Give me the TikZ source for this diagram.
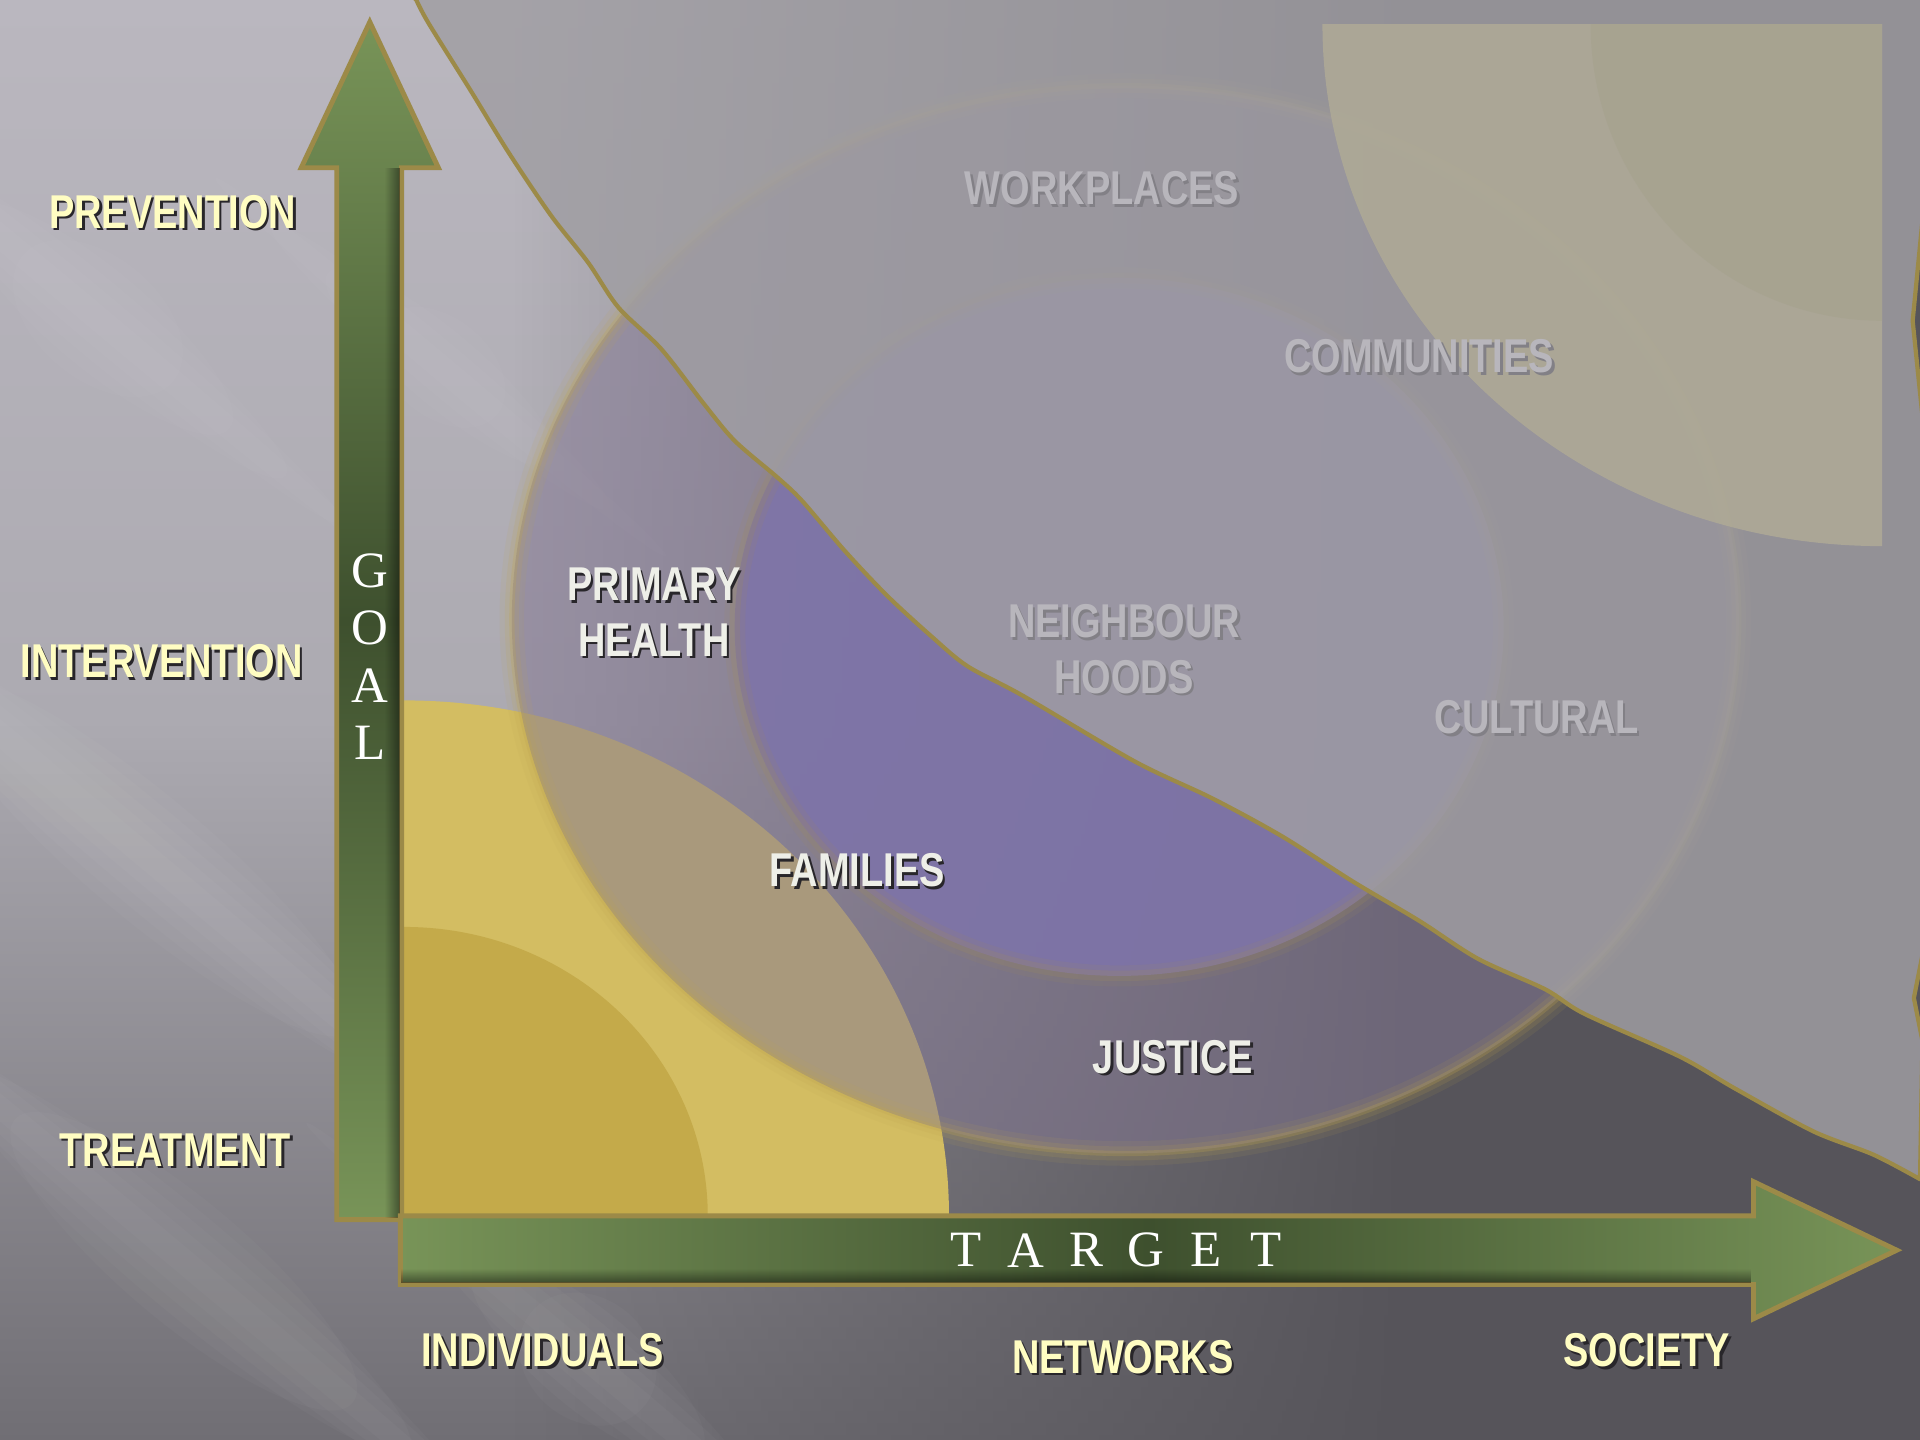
\documentclass[tikz,border=0pt]{standalone}
\usepackage{fontspec}
\usetikzlibrary{fadings}
\newfontfamily\lblfont{Liberation Sans}[FakeStretch=0.8]
\newfontfamily\axfont{Liberation Serif}

\definecolor{bglight}{RGB}{186,183,191}
\definecolor{bgup}{RGB}{172,170,177}
\definecolor{bgmid}{RGB}{112,110,116}
\definecolor{bgdark}{RGB}{86,84,90}
\definecolor{goldline}{RGB}{156,138,72}
\definecolor{fog}{RGB}{160,158,163}
\definecolor{ringfill}{RGB}{132,120,148}
\definecolor{ringglow}{RGB}{190,165,80}
\definecolor{purplein}{RGB}{126,116,168}
\definecolor{innerglow}{RGB}{160,140,90}
\definecolor{yellowout}{RGB}{211,189,98}
\definecolor{yellowin}{RGB}{196,170,74}
\definecolor{beigeout}{RGB}{174,169,150}
\definecolor{beigein}{RGB}{167,163,144}
\definecolor{greenlight}{RGB}{120,148,88}
\definecolor{greendark}{RGB}{62,80,46}
\definecolor{cream}{RGB}{255,253,194}
\definecolor{palewhite}{RGB}{238,239,232}
\definecolor{fogtext}{RGB}{184,182,188}
\definecolor{txtshadow}{RGB}{40,38,42}
\definecolor{fogshadow}{RGB}{130,128,134}

\newcommand{\shtxt}[2][txtshadow]{\leavevmode\rlap{\kern0.25mm\raisebox{-0.25mm}{\textcolor{#1}{#2}}}#2}

\tikzset{
  lbl/.style={font=\lblfont\bfseries\fontsize{13.5}{15.8}\selectfont, text=cream, align=center, inner sep=0pt},
  healthlbl/.style={lbl, text=palewhite},
  foglbl/.style={lbl, text=fogtext},
  axisletter/.style={font=\axfont\fontsize{14.5}{16}\selectfont, text=white, inner sep=0pt},
  axisarrow/.style={draw=goldline, line width=1.4pt, line join=miter},
}

\begin{document}
\begin{tikzpicture}[x=0.12245mm,y=-0.12245mm]
\useasboundingbox (0,0) rectangle (1568,1176);
% background
\shade[top color=bglight, bottom color=bgmid, middle color=bgup] (0,0) rectangle (1568,1176);
\fill[bgdark, path fading=west] (420,0) rectangle (1150,1176);
\fill[bgdark] (1150,0) rectangle (1568,1176);
\begin{scope}
  \clip (0,0) rectangle (1568,1176);
  \foreach \cx/\cy/\len in {120/700/520, 150/1030/480, 480/1110/360, 80/260/380, 360/300/300}
  {
    \begin{scope}[shift={(\cx,\cy)}, rotate=-40]
      \foreach \s in {1,...,5}
        \fill[white, opacity=.025] (0,0) ellipse [x radius=\len-60*\s, y radius=10*\s];
    \end{scope}
  }
\end{scope}

% yellow quarters at the origin
\begin{scope}
  \clip (328,993) rectangle (900,450);
  \fill[yellowout] (330,993) ellipse [x radius=445, y radius=421];
  \fill[yellowin] (330,993) ellipse [x radius=248, y radius=236];
\end{scope}

% rings
\fill[ringfill, opacity=.52] (919,506) ellipse [x radius=501, y radius=436];
\foreach \w/\o in {7/.10,4/.15,1.5/.25}
  \draw[ringglow, line width=\w pt, opacity=\o] (919,506) ellipse [x radius=501, y radius=436];
\fill[purplein, opacity=.92] (914,512) ellipse [x radius=314, y radius=285];
\foreach \w/\o in {6/.12,3/.2}
  \draw[innerglow, line width=\w pt, opacity=\o] (914,512) ellipse [x radius=314, y radius=285];

% fog above the curve
\path[fill=fog, fill opacity=.83, draw=goldline, line width=1.2pt, line join=round]
  plot[smooth] coordinates {(340,0) (350,19) (385,75) (415,124) (450,176) (480,214)
    (505,251) (540,285) (575,330) (600,360) (635,390) (655,409) (690,450) (725,487)
    (761,520) (790,544) (835,568) (927,622) (990,652) (1047,683) (1105,720) (1159,752)
    (1207,783) (1262,808) (1294,828) (1372,863) (1417,889) (1481,924) (1530,943) (1568,963)}
  -- (1570,850) -- (1563,815) -- (1570,780) -- (1570,340) -- (1562,262) -- (1570,180)
  -- (1575,-10) -- (330,-10) -- cycle;

% beige quarters
\begin{scope}
  \clip (1080,20) rectangle (1537,446);
  \fill[beigeout, opacity=.9] (1537,20) ellipse [x radius=457, y radius=426];
  \fill[beigein, opacity=.9] (1537,20) ellipse [x radius=238, y radius=242];
\end{scope}

% axes
\path[axisarrow, top color=greenlight, bottom color=greenlight, middle color=greendark]
  (275,996) -- (275,137) -- (246,137) -- (302,18) -- (358,137) -- (328,137) -- (328,996) -- cycle;
\fill[black, opacity=.45, path fading=west] (314,137) rectangle (327,995);
\path[axisarrow, left color=greenlight, right color=greenlight, middle color=greendark]
  (327,993) -- (1432,993) -- (1432,965) -- (1549,1021) -- (1432,1077) -- (1432,1049) -- (327,1049) -- cycle;
\fill[black, opacity=.45, path fading=north] (328,1036) rectangle (1431,1048);

\foreach \ch [count=\i] in {G,O,A,L}
  \node[axisletter] (goal\i) at (302,419+47*\i) {\ch};
\foreach \ch [count=\i] in {T,A,R,G,E,T}
  \node[axisletter] (target\i) at (740+49*\i,1021) {\ch};

% labels
\node[lbl] (prevention) at (141,174) {\shtxt{PREVENTION}};
\node[lbl] (intervention) at (132,541) {\shtxt{INTERVENTION}};
\node[lbl] (treatment) at (143,940) {\shtxt{TREATMENT}};
\node[lbl] (individuals) at (443,1104) {\shtxt{INDIVIDUALS}};
\node[lbl] (networks) at (917,1109) {\shtxt{NETWORKS}};
\node[lbl] (society) at (1345,1104) {\shtxt{SOCIETY}};

\node[healthlbl] (primary) at (534,501) {\shtxt{PRIMARY}\\\shtxt{HEALTH}};
\node[healthlbl] (families) at (700,712) {\shtxt{FAMILIES}};
\node[healthlbl] (justice) at (958,864) {\shtxt{JUSTICE}};

\node[foglbl] (neighbour) at (918,531) {\shtxt[fogshadow]{NEIGHBOUR}\\\shtxt[fogshadow]{HOODS}};
\node[foglbl] (workplaces) at (900,155) {\shtxt[fogshadow]{WORKPLACES}};
\node[foglbl] (communities) at (1159,292) {\shtxt[fogshadow]{COMMUNITIES}};
\node[foglbl] (cultural) at (1255,587) {\shtxt[fogshadow]{CULTURAL}};
\end{tikzpicture}
\end{document}
